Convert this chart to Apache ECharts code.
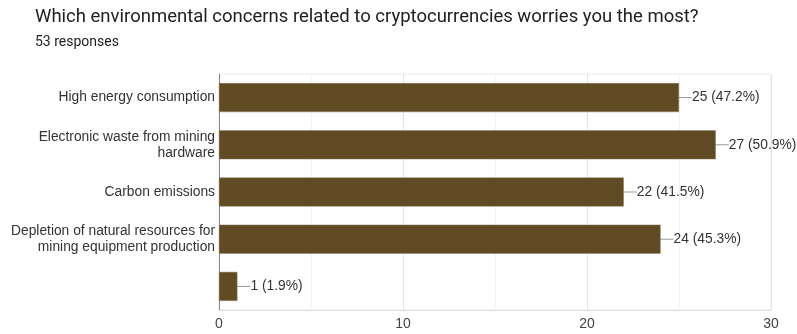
<!DOCTYPE html>
<html>
<head>
<meta charset="utf-8">
<script src="https://cdn.jsdelivr.net/npm/echarts@6/dist/echarts.min.js"></script>
<style>
html, body { margin: 0; padding: 0; background: #fff; }
#chart { width: 797px; height: 334px; }
</style>
</head>
<body>
<div id="chart"></div>
<script>
const chart = echarts.init(document.getElementById("chart"));

const categories = [
	"High energy consumption",
	"Electronic waste from mining\nhardware",
	"Carbon emissions",
	"Depletion of natural resources for\nmining equipment production",
	""
];
const counts = [25, 27, 22, 24, 1];
const percents = ["47.2%", "50.9%", "41.5%", "45.3%", "1.9%"];

option = {
	animation: false,
	title: {
		text: "Which environmental concerns related to cryptocurrencies worries you the most?",
		subtext: "53 responses",
		left: 30,
		top: 3,
		itemGap: 8,
		textStyle: { fontFamily: "Roboto", fontSize: 18.5, fontWeight: "normal", color: "#212121" },
		subtextStyle: { fontFamily: "Roboto", fontSize: 14, color: "#212121" }
	},
	grid: {
		show: true,
		borderColor: "#ebebeb",
		borderWidth: 1,
		left: 219,
		right: 26,
		top: 74,
		bottom: 24,
		containLabel: false
	},
	xAxis: {
		type: "value",
		min: 0,
		max: 30,
		interval: 5,
		axisLine: { show: true, lineStyle: { color: "#dddddd" } },
		axisTick: { show: false },
		axisLabel: {
			interval: 1,
			formatter: v => (v % 10 === 0 ? v : ""),
			color: "#444",
			fontFamily: "Liberation Sans",
			fontSize: 14,
			margin: 7
		},
		splitLine: { lineStyle: { color: ["#e4e4e4", "#f2f2f2"] } }
	},
	yAxis: {
		type: "category",
		data: categories,
		inverse: true,
		axisLine: { show: true, lineStyle: { color: "#888" } },
		axisTick: { show: false },
		axisLabel: {
			color: "#333",
			fontFamily: "Liberation Sans",
			fontSize: 13.8,
			lineHeight: 16,
			margin: 4,
			align: "right"
		}
	},
	series: [{
		type: "bar",
		data: counts,
		barWidth: 29,
		itemStyle: { color: "#614b25", borderColor: "#8a7a5c", borderWidth: 0.5 },
		label: {
			show: true,
			position: "right",
			distance: 0,
			formatter: p => p.value + " (" + percents[p.dataIndex] + ")",
			color: "#333",
			fontFamily: "Liberation Sans",
			fontSize: 13.8
		},
		labelLayout: { dx: 13 },
		labelLine: { show: true, lineStyle: { color: "#999", width: 1 } }
	}]
};

chart.setOption(option);
window.onresize = chart.resize;
</script>
</body>
</html>
